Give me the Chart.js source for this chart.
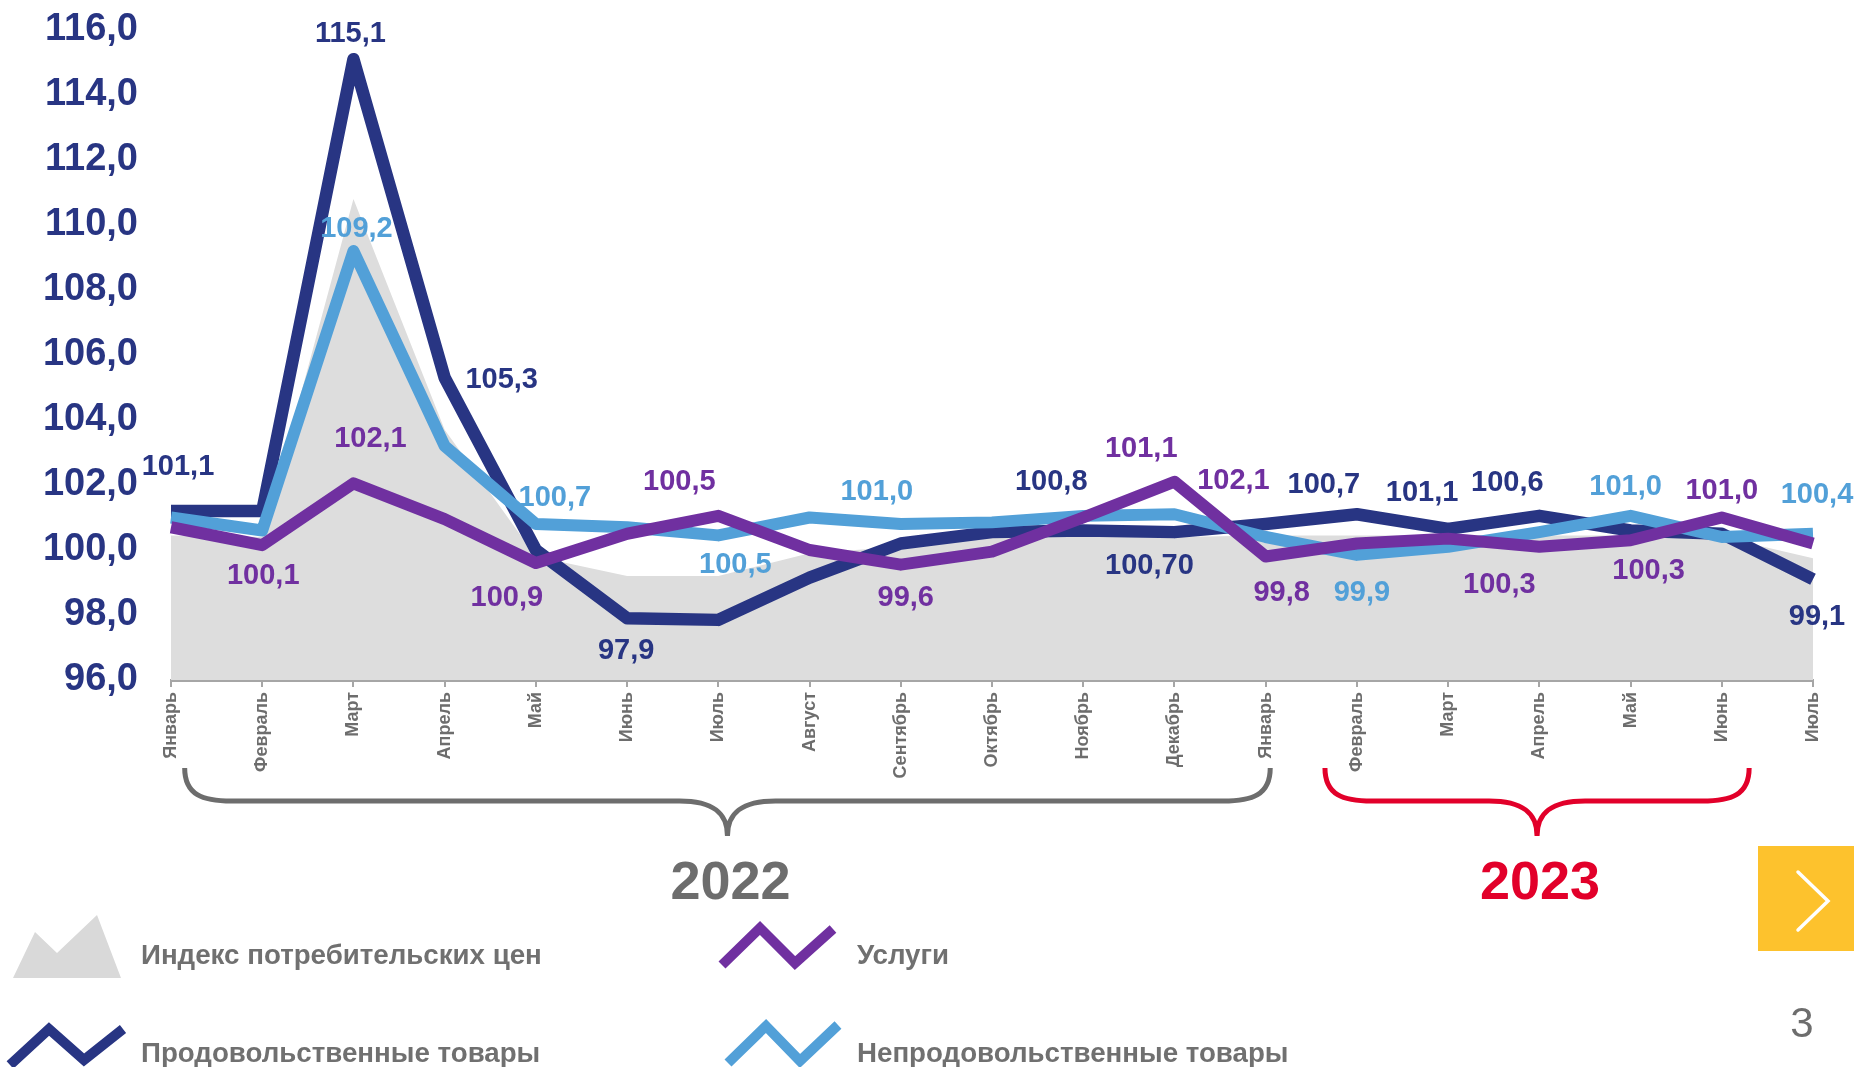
<!DOCTYPE html>
<html>
<head>
<meta charset="utf-8">
<script src="https://cdn.jsdelivr.net/npm/chart.js@4.4.0/dist/chart.umd.min.js"></script>
<style>
  html, body { margin: 0; padding: 0; background: #fff; }
  #wrap { position: relative; width: 1854px; height: 1067px; overflow: hidden; font-family: "Liberation Sans", Arial, sans-serif; }
  #wrap canvas { position: absolute; left: 0; top: 0; }
  .leg { position: absolute; font-weight: bold; font-size: 27.7px; color: #707070; line-height: 30px; white-space: nowrap; }
  #next { position: absolute; left: 1758px; top: 846px; width: 96px; height: 105px; background: #fdc22d; }
  #page { position: absolute; left: 1782px; top: 998px; width: 40px; text-align: center; font-size: 42px; line-height: 50px; color: #6d6d6d; }
  #icons { position: absolute; left: 0; top: 0; }
</style>
</head>
<body>
<div id="wrap">
  <canvas id="myChart" width="1854" height="1067"></canvas>
  <svg id="icons" width="1854" height="1067">
    <polygon points="13,978 35,932 57,953 97,915 121,978" fill="#d9d9d9"/>
    <polyline points="10,1065 49,1029 84,1060 123,1029" fill="none" stroke="#283583" stroke-width="10"/>
    <polyline points="722,965 760,928 795,963 833,929" fill="none" stroke="#7030a0" stroke-width="10"/>
    <polyline points="728,1063 766,1026 800,1061 838,1025" fill="none" stroke="#52a0d8" stroke-width="10"/>
  </svg>
  <div class="leg" style="left:141px; top:940px;">Индекс потребительских цен</div>
  <div class="leg" style="left:857px; top:940px;">Услуги</div>
  <div class="leg" style="left:141px; top:1038px;">Продовольственные товары</div>
  <div class="leg" style="left:857px; top:1038px;">Непродовольственные товары</div>
  <div id="next">
    <svg width="96" height="105"><polyline points="40,26 70,55 40,84" fill="none" stroke="#fff" stroke-width="3.5" stroke-linecap="round"/></svg>
  </div>
  <div id="page">3</div>
</div>
<script>
// месяцы 2022 - 2023
var months = ["Январь", "Февраль", "Март", "Апрель", "Май", "Июнь", "Июль", "Август", "Сентябрь", "Октябрь", "Ноябрь", "Декабрь",
              "Январь", "Февраль", "Март", "Апрель", "Май", "Июнь", "Июль"];

var cpi      = [100.45, 100.4, 110.8, 103.7, 99.8, 99.2, 99.2, 99.9, 100.1, 100.5, 100.5, 100.4, 100.45, 100.45, 100.45, 100.45, 100.45, 100.4, 99.75];
var food     = [101.2, 101.2, 115.1, 105.3, 100.0, 97.9, 97.85, 99.15, 100.2, 100.55, 100.6, 100.55, 100.8, 101.1, 100.65, 101.05, 100.6, 100.5, 99.1];
var services = [100.7, 100.15, 102.05, 100.95, 99.6, 100.5, 101.05, 100.0, 99.55, 99.95, 101.0, 102.1, 99.8, 100.2, 100.35, 100.1, 100.3, 101.0, 100.2];
var nonfood  = [101.0, 100.6, 109.2, 103.2, 100.8, 100.7, 100.45, 101.0, 100.8, 100.85, 101.05, 101.1, 100.4, 99.85, 100.1, 100.55, 101.05, 100.4, 100.5];

// подписи значений (как на слайде)
var foodLabels     = ["101,1", null, "115,1", "105,3", null, "97,9", null, null, null, null, "100,8", "100,70", null, "100,7", "101,1", "100,6", null, null, "99,1"];
var nonfoodLabels  = [null, null, "109,2", null, "100,7", null, "100,5", null, "101,0", null, null, null, null, "99,9", null, null, "101,0", null, "100,4"];
var servicesLabels = [null, "100,1", "102,1", null, "100,9", null, "100,5", null, "99,6", null, "101,1", "102,1", "99,8", null, null, "100,3", "100,3", "101,0", null];

var yTicks = [96, 98, 100, 102, 104, 106, 108, 110, 112, 114, 116];
var years = ["2022", "2023"];

// сдвиги подписей в пикселях
var labelOffsets = {
  food:     {0:[7,-44], 2:[-3,-25], 3:[57,2], 5:[-1,33], 10:[-32,-49], 11:[-25,34], 13:[-33,-29], 14:[-26,-36], 15:[-32,-33], 18:[4,38]},
  nonfood:  {2:[3,-22], 4:[19,-26], 6:[17,30], 8:[-24,-32], 13:[5,38], 16:[-5,-29], 18:[4,-39]},
  services: {1:[1,31], 2:[17,-44], 4:[-29,35], 6:[-39,-34], 8:[5,33], 10:[58,-69], 11:[59,-1], 12:[16,36], 15:[-40,38], 16:[18,31], 17:[0,-27]}
};

var braceStyle = [
  {from: 0.15, to: 12.05, color: "#6d6d6d"},
  {from: 12.65, to: 17.3, color: "#e2002a"}
];

Chart.defaults.font.family = '"Liberation Sans", Arial, sans-serif';

var valueLabels = {
  id: "valueLabels",
  afterDatasetsDraw: function(chart) {
    var ctx = chart.ctx;
    ctx.save();
    ctx.font = "bold 29px 'Liberation Sans', Arial, sans-serif";
    ctx.textAlign = "center";
    ctx.textBaseline = "middle";
    chart.data.datasets.forEach(function(ds, k) {
      if (!ds.valueLabels) return;
      var meta = chart.getDatasetMeta(k);
      ds.valueLabels.forEach(function(t, i) {
        if (!t) return;
        var off = labelOffsets[ds.key][i] || [0, -30];
        ctx.fillStyle = ds.borderColor;
        ctx.fillText(t, meta.data[i].x + off[0], meta.data[i].y + off[1]);
      });
    });
    ctx.restore();
  }
};

var yearBraces = {
  id: "yearBraces",
  afterDraw: function(chart) {
    var ctx = chart.ctx, xs = chart.scales.x;
    var top = 768, mid = 801, tip = 836;
    ctx.save();
    braceStyle.forEach(function(b, k) {
      var x0 = xs.getPixelForValue(b.from), x1 = xs.getPixelForValue(b.to);
      var xc = (x0 + x1) / 2;
      ctx.strokeStyle = b.color;
      ctx.lineWidth = 5;
      ctx.beginPath();
      ctx.moveTo(x0, top);
      ctx.bezierCurveTo(x0, mid - 6, x0 + 18, mid, x0 + 47, mid);
      ctx.lineTo(xc - 48, mid);
      ctx.bezierCurveTo(xc - 14, mid, xc, mid + 12, xc, tip);
      ctx.moveTo(x1, top);
      ctx.bezierCurveTo(x1, mid - 6, x1 - 18, mid, x1 - 47, mid);
      ctx.lineTo(xc + 48, mid);
      ctx.bezierCurveTo(xc + 14, mid, xc, mid + 12, xc, tip);
      ctx.stroke();
      ctx.fillStyle = b.color;
      ctx.font = "bold 54px 'Liberation Sans', Arial, sans-serif";
      ctx.textAlign = "center";
      ctx.textBaseline = "middle";
      ctx.fillText(years[k], xc + 3, 884);
    });
    ctx.restore();
  }
};

new Chart("myChart", {
  type: "line",
  data: {
    labels: months,
    datasets: [
      {key: "services", data: services, valueLabels: servicesLabels, borderColor: "#7030a0", borderWidth: 12, order: 0},
      {key: "nonfood", data: nonfood, valueLabels: nonfoodLabels, borderColor: "#52a0d8", borderWidth: 12, order: 1},
      {key: "food", data: food, valueLabels: foodLabels, borderColor: "#283583", borderWidth: 12.5, order: 2},
      {key: "cpi", data: cpi, borderWidth: 0, backgroundColor: "#dddddd", fill: "start", order: 3}
    ]
  },
  options: {
    responsive: false,
    animation: false,
    layout: {padding: {top: 30, right: 41, left: 0, bottom: 0}},
    elements: {
      point: {radius: 0},
      line: {tension: 0, borderJoinStyle: "round", borderCapStyle: "butt"}
    },
    plugins: {legend: {display: false}, tooltip: {enabled: false}},
    scales: {
      x: {
        grid: {drawOnChartArea: false, drawTicks: true, tickLength: 7, color: "#a6a6a6", lineWidth: 2},
        border: {display: true, color: "#a6a6a6", width: 3},
        ticks: {autoSkip: false, maxRotation: 90, minRotation: 90, padding: 5, color: "#6d6d6d", font: {size: 18, weight: "bold"}},
        afterFit: function(s) { s.height = 387; }
      },
      y: {
        min: 96, max: 116,
        grid: {display: false},
        border: {display: false},
        afterBuildTicks: function(s) { s.ticks = yTicks.map(function(v) { return {value: v}; }); },
        ticks: {
          padding: 25, color: "#283583", font: {size: 38, weight: "bold"},
          callback: function(v) { return v.toFixed(1).replace(".", ","); }
        },
        afterFit: function(s) { s.width = 171; s.paddingTop = 0; s.paddingBottom = 0; }
      }
    }
  },
  plugins: [valueLabels, yearBraces]
});
</script>
</body>
</html>
